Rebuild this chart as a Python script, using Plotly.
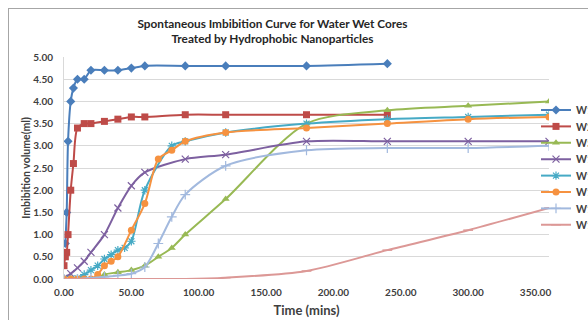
import plotly.graph_objects as go

# Imbibition time (mins) and recovered volume (ml) for each core
w1_t = [1, 2, 3, 5, 7, 10, 15, 20, 30, 40, 50, 60, 90, 120, 180, 240]
w1_v = [0.8, 1.5, 3.1, 4.0, 4.3, 4.5, 4.5, 4.7, 4.7, 4.7, 4.75, 4.8, 4.8, 4.8, 4.8, 4.85]

w2_t = [0, 1, 2, 3, 5, 7, 10, 15, 20, 30, 40, 50, 60, 90, 120, 180, 240]
w2_v = [0.3, 0.5, 0.6, 1.0, 2.0, 2.6, 3.4, 3.5, 3.5, 3.55, 3.6, 3.65, 3.65, 3.7, 3.7, 3.7, 3.7]

w5_t = [0, 5, 10, 15, 20, 25, 30, 40, 50, 60, 70, 80, 90, 120, 180, 240, 300, 360]
w5_v = [0, 0, 0, 0, 0, 0, 0.1, 0.15, 0.2, 0.3, 0.5, 0.7, 1.0, 1.8, 3.5, 3.8, 3.9, 4.0]

w10_t = [0, 5, 10, 15, 20, 30, 40, 50, 60, 90, 120, 180, 240, 300, 360]
w10_v = [0.02, 0.12, 0.25, 0.4, 0.6, 1.0, 1.6, 2.1, 2.4, 2.7, 2.8, 3.1, 3.1, 3.1, 3.1]

w11_t = [0, 5, 10, 15, 20, 25, 30, 35, 40, 45, 50, 60, 80, 90, 120, 180, 240, 300, 360]
w11_v = [0, 0, 0.02, 0.1, 0.2, 0.3, 0.45, 0.55, 0.65, 0.7, 0.85, 2.0, 3.0, 3.1, 3.3, 3.5, 3.6, 3.65, 3.7]

w12_t = [0, 5, 10, 15, 20, 25, 30, 35, 40, 50, 60, 70, 80, 90, 120, 180, 240, 300, 360]
w12_v = [0, 0, 0, 0, 0, 0.1, 0.3, 0.4, 0.5, 1.1, 1.7, 2.7, 2.9, 3.1, 3.3, 3.4, 3.5, 3.6, 3.65]

w13_t = [0, 10, 20, 30, 40, 50, 60, 70, 80, 90, 120, 180, 240, 300, 360]
w13_v = [0, 0, 0.02, 0.05, 0.08, 0.12, 0.27, 0.8, 1.4, 1.9, 2.55, 2.9, 2.95, 2.95, 3.0]

w14_t = [0, 10, 20, 30, 40, 50, 60, 70, 80, 90, 120, 180, 240, 300, 360]
w14_v = [0, 0, 0, 0, 0, 0, 0, 0, 0, 0, 0.03, 0.18, 0.65, 1.1, 1.6]

y_ticks = [0, 0.5, 1.0, 1.5, 2.0, 2.5, 3.0, 3.5, 4.0, 4.5, 5.0]
x_ticks = [0, 50, 100, 150, 200, 250, 300, 350]

series = [
    ("W1", w1_t, w1_v, "#4a7ebb", "diamond", 7, 0),
    ("W2", w2_t, w2_v, "#be4b48", "square", 7, 0),
    ("W5", w5_t, w5_v, "#98b954", "triangle-up", 7, 0),
    ("W10", w10_t, w10_v, "#7d60a0", "x-thin", 7, 1.2),
    ("W11", w11_t, w11_v, "#46aac5", "asterisk", 7, 1.2),
    ("W12", w12_t, w12_v, "#f69240", "circle", 7, 0),
    ("W13", w13_t, w13_v, "#a2b9de", "cross-thin", 7, 1.2),
    ("W14", w14_t, w14_v, "#dc9896", "line-ew", 7, 1.5),
]

FONT = "Lato"
W, H = 588, 320
ML, MR, MT, MB = 64, 39, 57, 41
PW, PH = W - ML - MR, H - MT - MB


def px_to_paper_x(px):
    return (px - ML) / PW


def px_to_paper_y(py):
    return (H - MB - py) / PH


fig = go.Figure()
legend_layouts = {}
for i, (name, t, v, color, sym, size, lw) in enumerate(series):
    key = "legend" if i == 0 else f"legend{i + 1}"
    fig.add_trace(go.Scatter(
        x=t, y=v, name=name, mode="lines+markers", legend=key,
        line=dict(color=color, width=2, shape="spline", smoothing=0.8),
        marker=dict(symbol=sym, size=size, color=color,
                    line=dict(color=color, width=lw)),
    ))
    # one entry per legend box so the rows sit on a tight 16 px pitch
    legend_layouts[key] = dict(
        x=px_to_paper_x(536), xanchor="left",
        y=px_to_paper_y(110 + 16.4 * i), yanchor="middle",
        font=dict(family=FONT, size=10.5, color="#404040", weight="bold"),
        bgcolor="rgba(0,0,0,0)", borderwidth=0,
    )

# chart-area frame (top and left edges)
frame = dict(type="line", xref="paper", yref="paper",
             line=dict(color="#a6a6a6", width=1))
fig.add_shape(**frame, x0=px_to_paper_x(8), x1=px_to_paper_x(600),
              y0=px_to_paper_y(8.5), y1=px_to_paper_y(8.5))
fig.add_shape(**frame, x0=px_to_paper_x(8.5), x1=px_to_paper_x(8.5),
              y0=px_to_paper_y(8), y1=px_to_paper_y(330))

fig.update_layout(
    width=W, height=H,
    margin=dict(l=ML, r=MR, t=MT, b=MB, autoexpand=False),
    paper_bgcolor="white", plot_bgcolor="white",
    font=dict(family=FONT, color="#404040"),
    title=dict(
        text="<b>Spontaneous Imbibition Curve for Water Wet Cores<br>Treated by Hydrophobic Nanoparticles</b>",
        x=272.5 / W, xanchor="center", xref="container",
        y=1 - 28 / H, yanchor="top", yref="container",
        font=dict(family=FONT, size=11.8, color="#262626"),
    ),
    xaxis=dict(
        range=[0, 360], tickvals=x_ticks,
        ticktext=[f"{v:.2f}" for v in x_ticks],
        showgrid=False, zeroline=False,
        showline=False,
        ticks="", ticklabelstandoff=6,
        tickfont=dict(family=FONT, size=10, color="#404040", weight="bold"),
        title=dict(text="<b>Time (mins)</b>", standoff=8,
                   font=dict(family=FONT, size=13, color="#404040")),
    ),
    yaxis=dict(
        range=[0, 5.0], tickvals=y_ticks,
        ticktext=[f"{v:.2f}" for v in y_ticks],
        showgrid=True, gridcolor="#d9d9d9", gridwidth=1,
        zeroline=False,
        showline=True, linecolor="#d9d9d9", linewidth=1,
        ticks="", ticklabelstandoff=8,
        tickfont=dict(family=FONT, size=10, color="#404040", weight="bold"),
        title=dict(text="<b>Imbibition volume(ml)</b>", standoff=0,
                   font=dict(family=FONT, size=10.5, color="#404040")),
    ),
    showlegend=True,
    **legend_layouts,
)

fig.write_html("out.html")
